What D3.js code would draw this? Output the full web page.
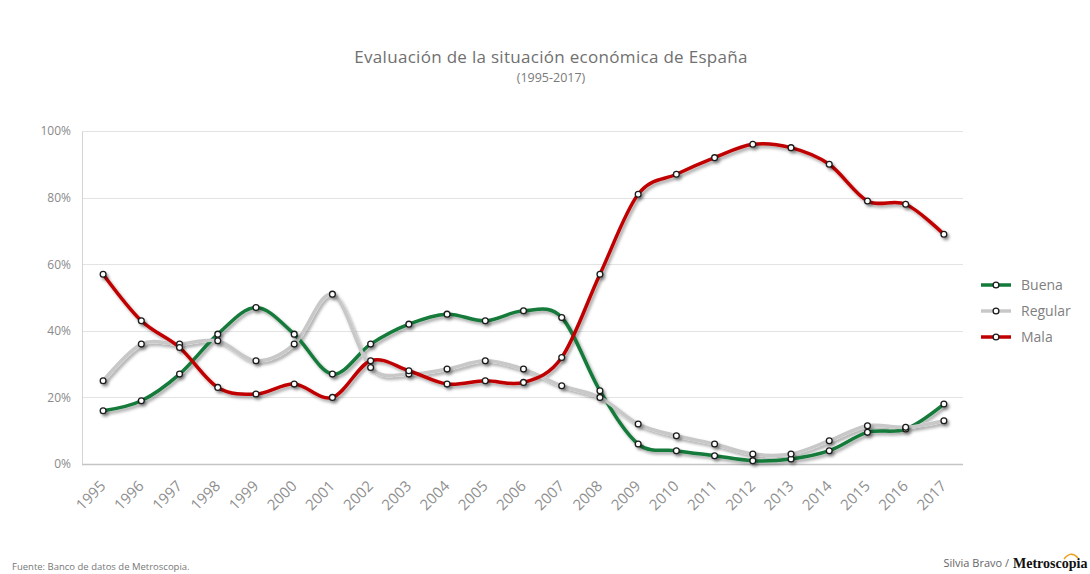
<!DOCTYPE html>
<html>
<head>
<meta charset="utf-8">
<script src="https://cdn.jsdelivr.net/npm/d3@7"></script>
<style>
  html, body { margin: 0; padding: 0; background: #fff; }
  svg { display: block; font-family: "Open Sans", "DejaVu Sans", sans-serif; }
</style>
</head>
<body>
<svg id="chart" width="1090" height="574"></svg>
<script>
// Survey years
const years = ["1995","1996","1997","1998","1999","2000","2001","2002","2003","2004","2005","2006",
               "2007","2008","2009","2010","2011","2012","2013","2014","2015","2016","2017"];

// Share of respondents (%) rating Spain's economic situation
const buena   = [16, 19, 27, 39, 47, 39, 27, 36, 42, 45, 43, 46, 44, 22, 6, 4, 2.5, 1, 1.5, 4, 9.5, 10.5, 18];
const regular = [25, 36, 36, 37, 31, 36, 51, 29, 27, 28.5, 31, 28.5, 23.5, 20, 12, 8.5, 6, 3, 3, 7, 11.5, 11, 13];
const mala    = [57, 43, 35, 23, 21, 24, 20, 31, 28, 24, 25, 24.5, 32, 57, 81, 87, 92, 96, 95, 90, 79, 78, 69];

const yTicks = [0, 20, 40, 60, 80, 100];

const seriesNames  = ["Buena", "Regular", "Mala"];
const seriesValues = [buena, regular, mala];
const seriesColors = ["#137a3b", "#c8c8c8", "#c00000"];

const svg = d3.select("#chart");

// Soft shadow beneath the lines
const defs = svg.append("defs");
const f = defs.append("filter").attr("id", "shadow")
  .attr("x", "-5%").attr("y", "-5%").attr("width", "110%").attr("height", "110%");
f.append("feDropShadow").attr("dx", 2).attr("dy", 2.5)
  .attr("stdDeviation", 1.6).attr("flood-color", "#000").attr("flood-opacity", 0.35);

const plot = { left: 84, right: 963, top: 131, bottom: 464 };

const x = d3.scalePoint().domain(years).range([plot.left, plot.right]).padding(0.5);
const y = d3.scaleLinear().domain([0, 100]).range([plot.bottom, plot.top]);

// Title
svg.append("text").attr("x", 551).attr("y", 63).attr("text-anchor", "middle")
  .attr("font-size", 17).attr("fill", "#707070").attr("letter-spacing", 0.3)
  .text("Evaluación de la situación económica de España");
svg.append("text").attr("x", 551).attr("y", 82).attr("text-anchor", "middle")
  .attr("font-size", 12.5).attr("fill", "#7a7a7a")
  .text("(1995-2017)");

// Horizontal gridlines
svg.append("g").selectAll("line").data(yTicks.filter(d => d > 0)).join("line")
  .attr("x1", plot.left - 2).attr("x2", plot.right)
  .attr("y1", d => Math.round(y(d)) + 0.5).attr("y2", d => Math.round(y(d)) + 0.5)
  .attr("stroke", "#e3e3e3").attr("stroke-width", 1);

// Y axis
const yAxis = svg.append("g").attr("transform", `translate(${plot.left - 2},0)`)
  .call(d3.axisLeft(y).tickValues(yTicks).tickSize(0).tickPadding(11).tickFormat(d => d + "%"));
yAxis.select(".domain").attr("stroke", "#d4d4d4");
yAxis.selectAll("text").attr("font-size", 12).attr("fill", "#8a8a8a")
  .attr("font-family", "'Open Sans', 'DejaVu Sans', sans-serif");

// X axis
const xAxis = svg.append("g").attr("transform", `translate(0,${plot.bottom})`)
  .call(d3.axisBottom(x).tickSize(0).tickPadding(0));
xAxis.select(".domain").attr("stroke", "#c4c4c4").attr("stroke-width", 1.5)
  .attr("d", `M${plot.left - 2},0.5H${plot.right}`);
xAxis.selectAll("text")
  .attr("font-size", 15).attr("fill", "#8f8f8f")
  .attr("font-family", "'Open Sans', 'DejaVu Sans', sans-serif")
  .attr("text-anchor", "end").attr("dy", 0)
  .attr("transform", "translate(3,23) rotate(-45)");

// Lines
const line = d3.line()
  .x((d, i) => x(years[i]))
  .y(d => y(d))
  .curve(d3.curveCardinal.tension(0));

const lines = svg.append("g").attr("filter", "url(#shadow)");
seriesValues.forEach((vals, k) => {
  lines.append("path").datum(vals)
    .attr("d", line).attr("fill", "none")
    .attr("stroke", seriesColors[k]).attr("stroke-width", 3.5)
    .attr("stroke-linejoin", "round").attr("stroke-linecap", "round");
});

// Markers
const markers = svg.append("g").attr("filter", "url(#shadow)");
seriesValues.forEach((vals, k) => {
  markers.append("g").selectAll("circle").data(vals).join("circle")
    .attr("cx", (d, i) => x(years[i])).attr("cy", d => y(d))
    .attr("r", 2.9).attr("fill", "#fff").attr("stroke", "#1a1a1a").attr("stroke-width", 1.3);
});

// Legend
const legend = svg.append("g");
seriesNames.forEach((name, k) => {
  const ly = 285 + k * 26;
  legend.append("line").attr("x1", 981).attr("x2", 1011).attr("y1", ly).attr("y2", ly)
    .attr("stroke", seriesColors[k]).attr("stroke-width", 3.5);
  legend.append("circle").attr("cx", 996).attr("cy", ly).attr("r", 2.9)
    .attr("fill", "#fff").attr("stroke", "#1a1a1a").attr("stroke-width", 1.3);
  legend.append("text").attr("x", 1021).attr("y", ly).attr("dy", "0.35em")
    .attr("font-size", 14).attr("fill", "#7f7f7f").text(name);
});

// Footer
svg.append("text").attr("x", 1009).attr("y", 567).attr("text-anchor", "end")
  .attr("font-size", 11).attr("fill", "#666").text("Silvia Bravo /");
svg.append("text").attr("x", 12).attr("y", 570)
  .attr("font-size", 9.5).attr("fill", "#777").text("Fuente: Banco de datos de Metroscopia.");
svg.append("text").attr("x", 1013).attr("y", 568)
  .attr("font-size", 14).attr("font-weight", "bold")
  .attr("font-family", "'Liberation Serif', 'DejaVu Serif', serif")
  .attr("fill", "#111")
  .text("Metroscopia");
svg.append("path").attr("d", "M1064,559 Q1071,550 1078,558")
  .attr("fill", "none").attr("stroke", "#f0a020").attr("stroke-width", 1.6);
</script>
</body>
</html>
